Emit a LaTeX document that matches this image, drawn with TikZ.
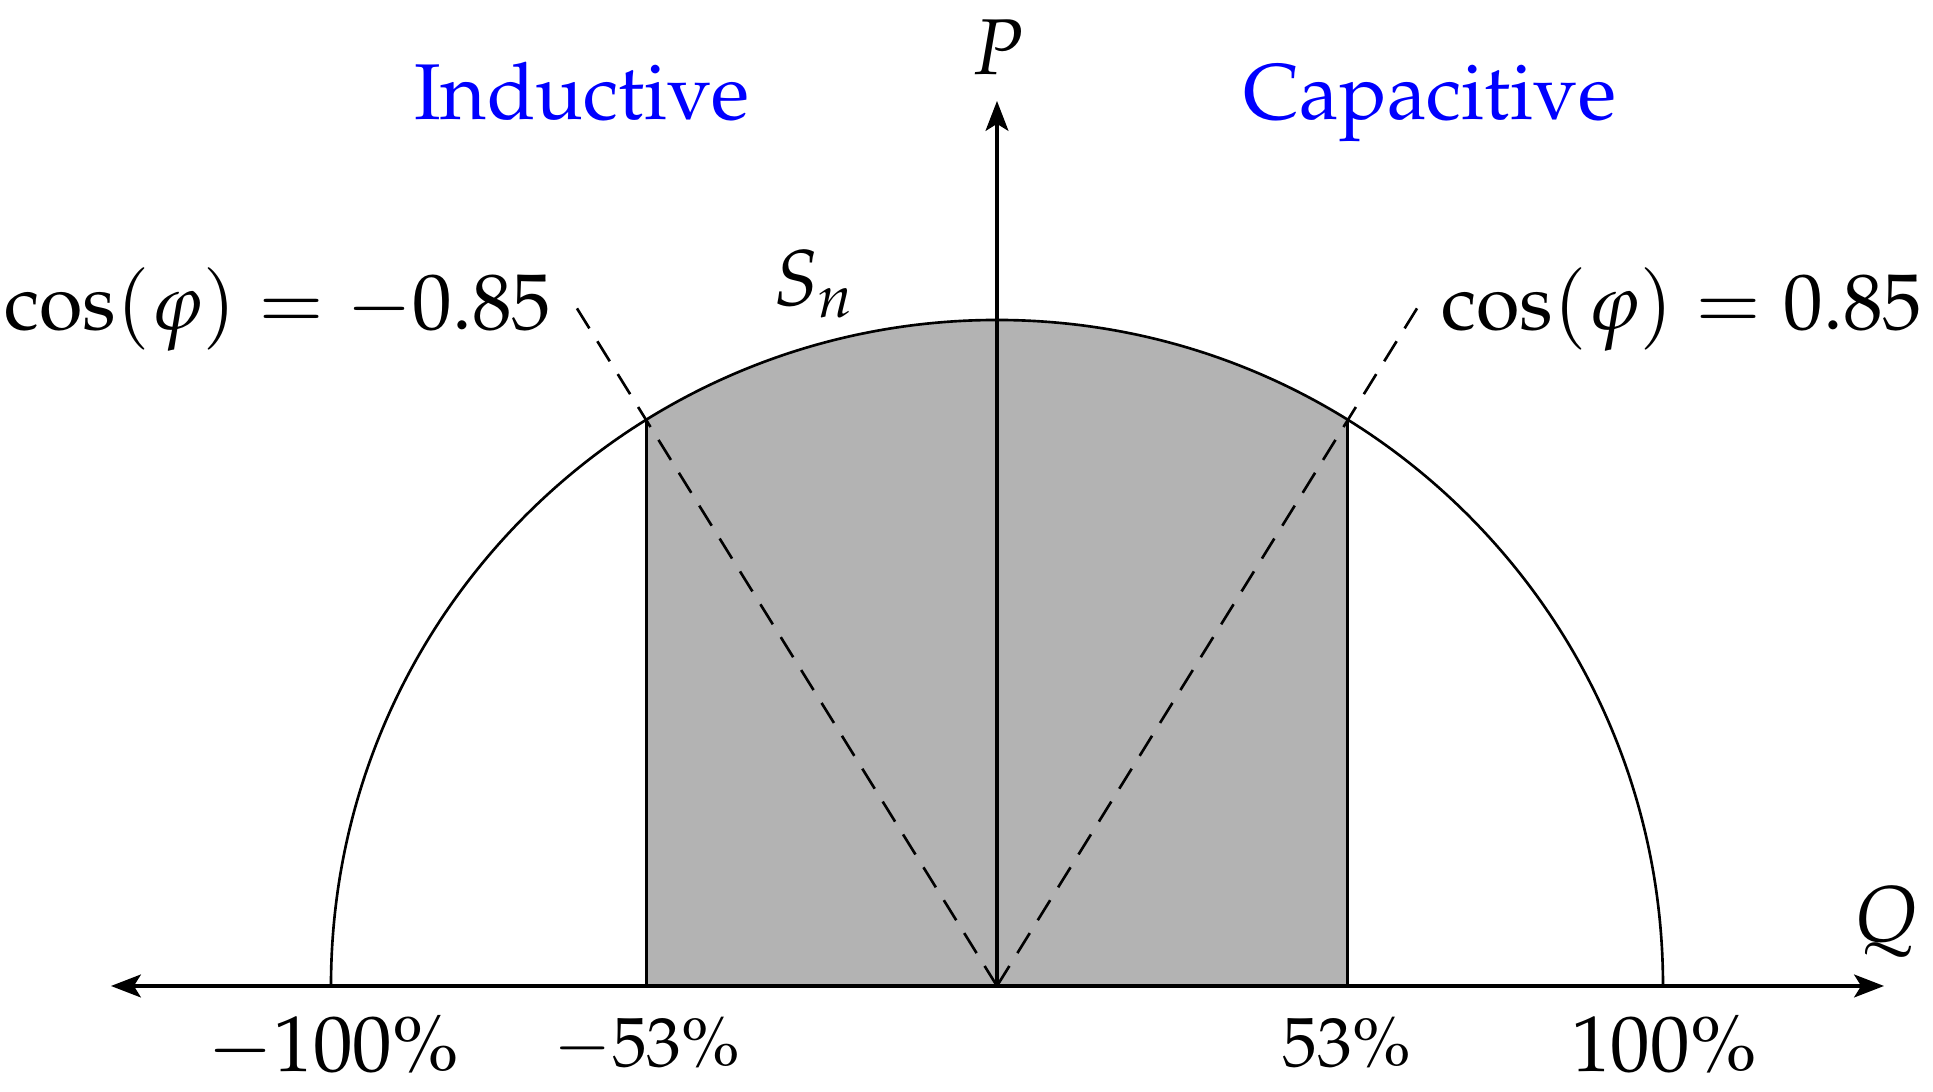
\documentclass[tikz,border=0pt]{standalone}
\usepackage[T1]{fontenc}
\usepackage{mathpazo}
\usetikzlibrary{arrows.meta}
\definecolor{areagray}{RGB}{179,179,179}
\begin{document}
\begin{tikzpicture}[x=0.01cm,y=0.01cm,
  every node/.style={font=\fontsize{22.5}{27}\selectfont, inner sep=0pt},
  small tick/.style={font=\fontsize{19.8}{24}\selectfont, anchor=base},
  axis/.style={line width=0.95pt, -{Stealth[length=8.5pt,width=6.5pt,inset=2pt]}},
  thin line/.style={line width=0.85pt},
  arc line/.style={line width=0.75pt},
  dash line/.style={line width=0.75pt, dash pattern=on 6.7pt off 4.3pt},
  side/.style={text=blue, anchor=base}]
\useasboundingbox (-997,-106) rectangle (936,986);
\def\R{666}
\coordinate (O) at (0,0);
\coordinate (qL) at (-886,0);
\coordinate (qR) at (887,0);
\coordinate (pT) at (0,885);
\coordinate (aL) at (-350.8,0);
\coordinate (aR) at (350.8,0);
\coordinate (cL) at (-350.8,566.1);
\coordinate (cR) at (350.8,566.1);
\coordinate (dL) at (-421.5,680);
\coordinate (dR) at (421.5,680);
% shaded region
\fill[areagray] (aL) -- (cL) arc[start angle=121.79, end angle=58.21, radius=\R] -- (aR) -- cycle;
% circle
\draw[arc line] (-\R,0) arc[start angle=180, end angle=0, radius=\R];
\draw[thin line] (aL) -- (cL);
\draw[thin line] (aR) -- (cR);
% dashed
\draw[dash line] (O) -- (dL);
\draw[dash line] (O) -- (dR);
% axes
\draw[axis] (O) -- (qR);
\draw[axis] (O) -- (qL);
\draw[axis] (O) -- (pT);
% labels
\node (P) at (1,939) {$P$};
\node (Q) at (889,64) {$Q$};
\node (Sn) at (-183,702) {$S_n$};
\node[side] (ind) at (-415,866) {Inductive};
\node[side] (cap) at (433,866) {Capacitive};
\node[anchor=base] (cosL) at (-719,656) {$\cos(\varphi) = -0.85$};
\node[anchor=base] (cosR) at (685,656) {$\cos(\varphi) = 0.85$};
\node[anchor=base] (t1) at (-664,-86) {$-100\%$};
\node[small tick] (t2) at (-350,-81) {$-53\%$};
\node[small tick] (t3) at (350,-81) {$53\%$};
\node[anchor=base] (t4) at (667,-86) {$100\%$};
\end{tikzpicture}
\end{document}
